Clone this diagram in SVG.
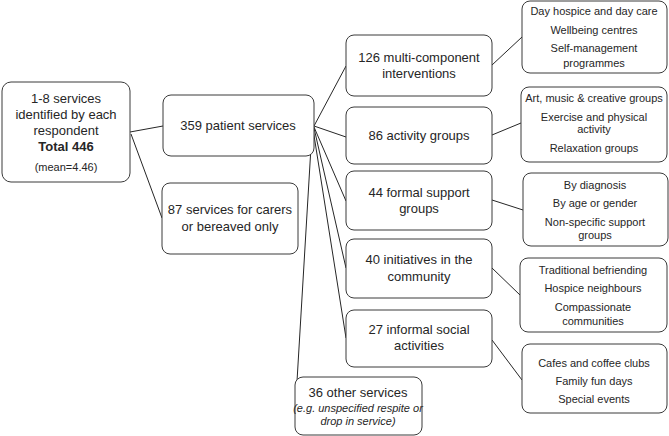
<svg xmlns="http://www.w3.org/2000/svg" width="669" height="436" viewBox="0 0 669 436">
<style>
.box{fill:#fff;stroke:#3a3a3a;stroke-width:1}
text{font-family:"Liberation Sans",Arial,sans-serif;fill:#262626;text-anchor:middle}
.m{font-size:13px}
.s{font-size:11px}
.b{font-weight:bold}
.i{font-style:italic;font-size:11px}
#connectors line{stroke:#262626;stroke-width:1}
</style>
<rect width="669" height="436" fill="#fff"/>
<g id="connectors">
<line x1="130" y1="132" x2="163" y2="126"/>
<line x1="131" y1="134" x2="162" y2="218"/>
<line x1="314" y1="126" x2="346" y2="66"/>
<line x1="314" y1="126" x2="346" y2="137"/>
<line x1="314" y1="127" x2="346" y2="201"/>
<line x1="314" y1="128" x2="346" y2="268"/>
<line x1="313" y1="129" x2="346" y2="338"/>
<line x1="312" y1="130" x2="296" y2="398"/>
<line x1="492" y1="65" x2="522" y2="37"/>
<line x1="492" y1="135" x2="521" y2="123"/>
<line x1="492" y1="200" x2="523" y2="210"/>
<line x1="492" y1="268" x2="520" y2="295"/>
<line x1="492" y1="340" x2="522" y2="380"/>
</g>
<g id="root">
<rect class="box" x="2" y="82" width="128" height="100" rx="9"/>
<text class="m" x="66" y="103">1-8 services</text>
<text class="m" x="66" y="119">identified by each</text>
<text class="m" x="66" y="135">respondent</text>
<text class="m b" x="66" y="151">Total 446</text>
<text class="s" x="66" y="171">(mean=4.46)</text>
</g>
<g id="patient">
<rect class="box" x="163" y="95" width="151" height="61" rx="8"/>
<text class="m" x="238" y="130">359 patient services</text>
</g>
<g id="carers">
<rect class="box" x="162" y="183" width="136" height="71" rx="8"/>
<text class="m" x="230" y="214">87 services for carers</text>
<text class="m" x="230" y="231">or bereaved only</text>
</g>
<g id="multi">
<rect class="box" x="346" y="35" width="146" height="61" rx="8"/>
<text class="m" x="419" y="62">126 multi-component</text>
<text class="m" x="419" y="78">interventions</text>
</g>
<g id="activity">
<rect class="box" x="346" y="107" width="146" height="57" rx="8"/>
<text class="m" x="419" y="140">86 activity groups</text>
</g>
<g id="formal">
<rect class="box" x="346" y="171" width="146" height="59" rx="8"/>
<text class="m" x="419" y="197">44 formal support</text>
<text class="m" x="419" y="213">groups</text>
</g>
<g id="initiatives">
<rect class="box" x="346" y="239" width="146" height="59" rx="8"/>
<text class="m" x="419" y="264">40 initiatives in the</text>
<text class="m" x="419" y="281">community</text>
</g>
<g id="informal">
<rect class="box" x="346" y="310" width="146" height="57" rx="8"/>
<text class="m" x="419" y="334">27 informal social</text>
<text class="m" x="419" y="350">activities</text>
</g>
<g id="other">
<rect class="box" x="295" y="377" width="127" height="58" rx="8"/>
<text class="m" x="358" y="397">36 other services</text>
<text class="i" x="358" y="412">(e.g. unspecified respite or</text>
<text class="i" x="358" y="425">drop in service)</text>
</g>
<g id="d1">
<rect class="box" x="522" y="1" width="145" height="72" rx="8"/>
<text class="s" x="594" y="15">Day hospice and day care</text>
<text class="s" x="594" y="34">Wellbeing centres</text>
<text class="s" x="594" y="52">Self-management</text>
<text class="s" x="594" y="67">programmes</text>
</g>
<g id="d2">
<rect class="box" x="521" y="87" width="146" height="75" rx="8"/>
<text class="s" x="594" y="102">Art, music &amp; creative groups</text>
<text class="s" x="594" y="121">Exercise and physical</text>
<text class="s" x="594" y="133">activity</text>
<text class="s" x="594" y="152">Relaxation groups</text>
</g>
<g id="d3">
<rect class="box" x="523" y="173" width="145" height="73" rx="8"/>
<text class="s" x="595" y="189">By diagnosis</text>
<text class="s" x="595" y="207">By age or gender</text>
<text class="s" x="595" y="226">Non-specific support</text>
<text class="s" x="595" y="239">groups</text>
</g>
<g id="d4">
<rect class="box" x="520" y="258" width="147" height="74" rx="8"/>
<text class="s" x="593" y="274">Traditional befriending</text>
<text class="s" x="593" y="292">Hospice neighbours</text>
<text class="s" x="593" y="311">Compassionate</text>
<text class="s" x="593" y="325">communities</text>
</g>
<g id="d5">
<rect class="box" x="522" y="344" width="145" height="69" rx="8"/>
<text class="s" x="594" y="367">Cafes and coffee clubs</text>
<text class="s" x="594" y="385">Family fun days</text>
<text class="s" x="594" y="403">Special events</text>
</g>
</svg>
